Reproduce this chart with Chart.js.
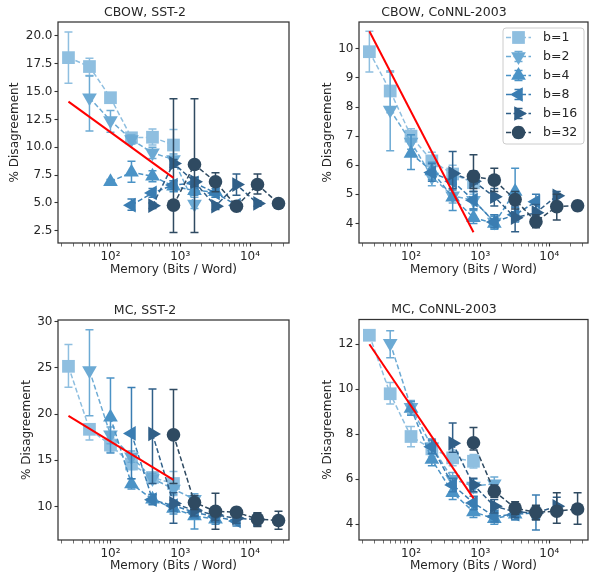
<!DOCTYPE html>
<html>
<head>
<meta charset="utf-8">
<script src="https://cdn.jsdelivr.net/npm/chart.js@4.4.1/dist/chart.umd.min.js"></script>
<style>
  body { margin: 0; background: #fff; }
  .panel { position: absolute; }
</style>
</head>
<body>
<div class="panel" style="left:0px;top:0px"><canvas id="c1" width="298" height="286"></canvas></div>
<div class="panel" style="left:298px;top:0px"><canvas id="c2" width="299" height="286"></canvas></div>
<div class="panel" style="left:0px;top:286px"><canvas id="c3" width="298" height="287"></canvas></div>
<div class="panel" style="left:298px;top:286px"><canvas id="c4" width="299" height="287"></canvas></div>
<script>
// memory (bits / word) of each precision b, one point per dimension
const bitLabels = ['b=1', 'b=2', 'b=4', 'b=8', 'b=16', 'b=32'];
const memB1 = [25, 50, 100, 200, 400, 800];
const memB2 = [50, 100, 200, 400, 800, 1600];
const memB4 = [100, 200, 400, 800, 1600, 3200];
const memB8 = [200, 400, 800, 1600, 3200, 6400];
const memB16 = [400, 800, 1600, 3200, 6400, 12800];
const memB32 = [800, 1600, 3200, 6400, 12800, 25600];
const fitMemory = [25, 800];
const xMajorTicks = [100, 1000, 10000];

// CBOW, SST-2
const cbowSstMean = [
  [18.05, 17.25, 14.45, 10.85, 10.9, 10.2],
  [14.45, 12.4, 10.7, 9.5, 8.9, 4.9],
  [6.9, 7.75, 7.4, 6.5, 6.1, 6.0],
  [4.8, 5.9, 6.6, 6.8, 5.9, 4.8],
  [4.75, 8.55, 6.9, 4.7, 6.65, 4.95],
  [4.8, 8.45, 6.9, 4.7, 6.65, 4.95]
];
const cbowSstLow = [
  [15.75, 16.45, 14.1, 10.5, 10.2, 8.8],
  [11.45, 11.35, 10.3, 9.0, 8.4, 4.5],
  [6.7, 6.85, 6.9, 6.0, 5.7, 5.5],
  [4.35, 5.5, 6.2, 6.4, 5.5, 4.5],
  [4.5, 8.2, 6.5, 4.4, 5.7, 4.7],
  [2.35, 2.35, 6.0, 4.4, 5.8, 4.7]
];
const cbowSstHigh = [
  [20.35, 18.0, 14.8, 11.2, 11.65, 11.6],
  [16.4, 13.3, 11.1, 10.0, 9.4, 5.5],
  [7.1, 8.75, 7.9, 7.0, 6.5, 6.5],
  [5.35, 6.3, 7.0, 7.2, 6.3, 5.1],
  [5.0, 8.9, 7.3, 5.0, 7.6, 5.2],
  [14.35, 14.35, 7.7, 5.0, 7.6, 5.2]
];
const cbowSstFit = [14.1, 7.25];
const cbowSstTicks = [2.5, 5, 7.5, 10, 12.5, 15, 17.5, 20];

// CBOW, CoNNL-2003
const cbowConllMean = [
  [9.9, 8.55, 7.0, 6.15, 5.7, 5.4],
  [7.9, 6.8, 5.6, 4.95, 4.8, 4.05],
  [6.4, 5.8, 4.9, 4.2, 4.0, 5.1],
  [5.75, 5.45, 4.8, 4.05, 4.3, 4.75],
  [5.72, 5.45, 4.92, 4.2, 4.37, 4.95],
  [5.62, 5.49, 4.82, 4.06, 4.58, 4.61]
];
const cbowConllLow = [
  [9.2, 7.8, 6.75, 5.85, 5.4, 5.0],
  [6.5, 6.55, 5.3, 4.7, 4.5, 3.85],
  [5.85, 5.5, 4.45, 4.0, 3.8, 4.4],
  [5.45, 5.15, 4.5, 3.85, 4.05, 4.5],
  [5.2, 5.1, 4.6, 3.72, 4.1, 4.75],
  [5.2, 5.1, 4.5, 3.85, 4.12, 4.45]
];
const cbowConllHigh = [
  [10.6, 9.25, 7.25, 6.45, 6.0, 5.8],
  [9.2, 7.05, 5.9, 5.2, 5.1, 4.3],
  [7.05, 6.1, 5.35, 4.45, 4.25, 5.9],
  [6.05, 5.75, 5.1, 4.3, 4.55, 5.0],
  [6.47, 5.8, 5.2, 4.6, 4.65, 5.1],
  [6.36, 5.9, 5.1, 4.3, 5.0, 4.77]
];
const cbowConllFit = [10.6, 3.7];
const cbowConllTicks = [4, 5, 6, 7, 8, 9, 10];

// MC, SST-2
const mcSstMean = [
  [25.15, 18.35, 16.65, 14.6, 13.15, 12.5],
  [24.7, 17.75, 15.4, 13.05, 11.9, 10.8],
  [19.65, 12.45, 10.8, 9.8, 9.0, 8.65],
  [17.9, 10.75, 10.1, 9.4, 8.9, 8.45],
  [17.85, 10.35, 9.6, 9.1, 8.75, 8.6],
  [17.75, 10.45, 9.5, 9.4, 8.65, 8.5]
];
const mcSstLow = [
  [22.9, 17.2, 15.9, 14.0, 12.6, 11.2],
  [19.8, 16.8, 14.8, 12.5, 11.3, 10.2],
  [15.8, 11.9, 10.3, 9.2, 7.6, 8.1],
  [13.0, 10.2, 9.5, 8.8, 8.3, 7.9],
  [12.5, 8.2, 9.0, 8.5, 8.2, 8.0],
  [12.5, 9.7, 7.55, 8.9, 7.85, 7.55]
];
const mcSstHigh = [
  [27.5, 18.9, 17.4, 15.2, 13.7, 13.8],
  [29.1, 18.6, 16.0, 13.6, 12.5, 11.4],
  [23.9, 13.0, 11.3, 10.4, 9.6, 9.2],
  [22.85, 11.3, 10.7, 10.0, 9.5, 9.0],
  [22.7, 11.5, 10.2, 9.7, 9.3, 9.2],
  [22.65, 11.2, 11.45, 9.9, 9.35, 9.5]
];
const mcSstFit = [19.8, 12.9];
const mcSstTicks = [10, 15, 20, 25, 30];

// MC, CoNNL-2003
const mcConllMean = [
  [12.4, 9.8, 7.9, 7.35, 6.95, 6.8],
  [12.05, 9.2, 7.45, 6.0, 5.7, 5.8],
  [9.15, 6.88, 5.4, 4.55, 4.25, 4.45],
  [7.45, 5.75, 4.95, 4.35, 4.45, 4.5],
  [7.6, 5.75, 4.8, 4.55, 4.5, 4.8],
  [7.62, 5.47, 4.72, 4.53, 4.58, 4.68]
];
const mcConllLow = [
  [12.2, 9.35, 7.45, 7.0, 6.6, 6.5],
  [11.4, 8.9, 7.1, 5.7, 5.4, 5.5],
  [8.85, 6.6, 5.1, 4.3, 4.0, 4.2],
  [7.15, 5.45, 4.65, 4.1, 4.2, 3.75],
  [7.2, 5.45, 4.5, 4.3, 4.2, 4.4],
  [7.3, 5.2, 4.45, 4.2, 4.05, 4.0]
];
const mcConllHigh = [
  [12.6, 10.3, 8.35, 7.7, 7.3, 7.1],
  [12.6, 9.5, 7.8, 6.3, 6.0, 6.1],
  [9.45, 7.15, 5.7, 4.8, 4.5, 4.7],
  [7.75, 6.05, 5.25, 4.6, 4.7, 5.3],
  [8.5, 6.05, 5.1, 4.8, 4.8, 5.2],
  [8.3, 5.75, 5.0, 4.85, 5.4, 5.4]
];
const mcConllFit = [12.0, 5.15];
const mcConllTicks = [4, 6, 8, 10, 12];

const memory = [memB1, memB2, memB4, memB8, memB16, memB32];
const colors = ['#8fbfe0', '#6caad4', '#4b93c6', '#3a7db2', '#305f88', '#2f4a61'];
const markers = [
  {style: 'rect', rot: 0, r: 9},
  {style: 'triangle', rot: 180, r: 8.5},
  {style: 'triangle', rot: 0, r: 8.5},
  {style: 'triangle', rot: -90, r: 8.5},
  {style: 'triangle', rot: 90, r: 8.5},
  {style: 'circle', rot: 0, r: 6.8}
];
const ink = '#262626';

Chart.defaults.font.family = 'DejaVu Sans';
Chart.defaults.color = ink;

// matplotlib-like error bars, drawn just under each series
const errorBars = {
  id: 'errorBars',
  beforeDatasetDraw(chart, args) {
    const ds = chart.data.datasets[args.index];
    if (!ds.low) return;
    const xs = chart.scales.x, ys = chart.scales.y, ctx = chart.ctx;
    ctx.save();
    ctx.strokeStyle = ds.borderColor;
    ctx.lineWidth = 1.5;
    ds.data.forEach((p, i) => {
      const px = xs.getPixelForValue(p.x);
      const y0 = ys.getPixelForValue(ds.low[i]);
      const y1 = ys.getPixelForValue(ds.high[i]);
      ctx.beginPath();
      ctx.moveTo(px, y0); ctx.lineTo(px, y1);
      ctx.moveTo(px - 4, y0); ctx.lineTo(px + 4, y0);
      ctx.moveTo(px - 4, y1); ctx.lineTo(px + 4, y1);
      ctx.stroke();
    });
    ctx.restore();
  }
};

// full box round the axes
const frame = {
  id: 'frame',
  afterDatasetsDraw(chart) {
    const a = chart.chartArea, ctx = chart.ctx;
    ctx.save();
    ctx.strokeStyle = '#333';
    ctx.lineWidth = 1.25;
    ctx.strokeRect(a.left, a.top, a.right - a.left, a.bottom - a.top);
    ctx.restore();
  }
};

function drawMarker(ctx, m, x, y, color) {
  ctx.save();
  ctx.fillStyle = color;
  ctx.translate(x, y);
  ctx.rotate(m.rot * Math.PI / 180);
  ctx.beginPath();
  if (m.style === 'rect') {
    const s = m.r * Math.SQRT1_2;
    ctx.rect(-s, -s, 2 * s, 2 * s);
  } else if (m.style === 'circle') {
    ctx.arc(0, 0, m.r, 0, Math.PI * 2);
  } else {
    for (let k = 0; k < 3; k++) {
      const a = k * 2 * Math.PI / 3;
      ctx.lineTo(Math.sin(a) * m.r, -Math.cos(a) * m.r);
    }
    ctx.closePath();
  }
  ctx.fill();
  ctx.restore();
}

const legendBox = {
  id: 'legendBox',
  afterDraw(chart, args, opts) {
    if (!opts.show) return;
    const ctx = chart.ctx;
    ctx.save();
    ctx.beginPath();
    ctx.roundRect(opts.x, opts.y, opts.w, opts.h, 3);
    ctx.fillStyle = 'rgba(255,255,255,0.85)';
    ctx.fill();
    ctx.strokeStyle = '#cccccc';
    ctx.lineWidth = 1;
    ctx.stroke();
    bitLabels.forEach((lab, i) => {
      const cy = opts.y + 9.5 + i * 19;
      const cx = opts.x + 15.5;
      ctx.strokeStyle = colors[i];
      ctx.lineWidth = 1.5;
      ctx.setLineDash([5, 2.5]);
      ctx.beginPath();
      ctx.moveTo(opts.x + 3, cy); ctx.lineTo(opts.x + 28, cy);
      ctx.stroke();
      ctx.setLineDash([]);
      ctx.beginPath();
      ctx.moveTo(cx, cy - 5); ctx.lineTo(cx, cy + 5);
      ctx.moveTo(cx - 4, cy - 5); ctx.lineTo(cx + 4, cy - 5);
      ctx.moveTo(cx - 4, cy + 5); ctx.lineTo(cx + 4, cy + 5);
      ctx.stroke();
      drawMarker(ctx, markers[i], cx, cy, colors[i]);
      ctx.fillStyle = ink;
      ctx.font = '12.5px "DejaVu Sans"';
      ctx.textBaseline = 'middle';
      ctx.fillText(lab, opts.x + 40, cy + 0.5);
    });
    ctx.restore();
  }
};

const sup = {2: '\u00b2', 3: '\u00b3', 4: '\u2074'};
const xAllTicks = [];
[10, 100, 1000, 10000].forEach(d => {
  for (let m = 1; m < 10; m++) {
    const v = m * d;
    if (v >= 17.7 && v <= 36200) xAllTicks.push(v);
  }
});

function makePanel(id, title, mean, low, high, fit, yTicks, yMin, yMax, yDigits, geo) {
  const datasets = mean.map((vals, i) => ({
    label: bitLabels[i],
    data: memory[i].map((m, k) => ({x: m, y: vals[k]})),
    low: low[i],
    high: high[i],
    showLine: true,
    borderColor: colors[i],
    backgroundColor: colors[i],
    borderWidth: 1.5,
    borderDash: [5, 2.5],
    pointStyle: markers[i].style,
    pointRotation: markers[i].rot,
    pointRadius: markers[i].r,
    pointBorderWidth: 0,
    clip: false,
    order: 6 - i
  }));
  datasets.push({
    label: 'fit',
    data: fitMemory.map((m, k) => ({x: m, y: fit[k]})),
    showLine: true,
    borderColor: '#ff0000',
    borderWidth: 2,
    pointRadius: 0,
    clip: false,
    order: 0
  });

  new Chart(document.getElementById(id), {
    type: 'scatter',
    data: {datasets},
    plugins: [errorBars, frame, legendBox],
    options: {
      responsive: false,
      animation: false,
      devicePixelRatio: 1,
      layout: {padding: {left: 0, right: geo.padR, top: geo.padT, bottom: 0}},
      plugins: {
        legend: {display: false},
        tooltip: {enabled: false},
        title: {
          display: true, text: title, color: ink,
          font: {size: 12.5, weight: 'normal'},
          padding: {top: 5, bottom: 2}
        },
        legendBox: geo.legend || {show: false}
      },
      scales: {
        x: {
          type: 'logarithmic',
          min: 17.7, max: 36200,
          bounds: 'data',
          afterBuildTicks: s => { s.ticks = xAllTicks.map(v => ({value: v})); },
          afterFit: s => { s.height = geo.xh; },
          ticks: {
            autoSkip: false, maxRotation: 0, padding: 3,
            font: {size: 12}, color: ink,
            callback: v => xMajorTicks.includes(v) ? '10' + sup[Math.round(Math.log10(v))] : ''
          },
          grid: {
            drawOnChartArea: false, tickLength: 3.5, tickColor: '#333',
            tickWidth: c => (c.tick && xMajorTicks.includes(c.tick.value)) ? 1.1 : 0.7
          },
          border: {display: false},
          title: {
            display: true, text: 'Memory (Bits / Word)', color: ink,
            font: {size: 12}, padding: {top: 0, bottom: geo.xTitlePad}
          }
        },
        y: {
          type: 'linear',
          min: yMin, max: yMax,
          bounds: 'data',
          afterBuildTicks: s => { s.ticks = yTicks.map(v => ({value: v})); },
          afterFit: s => { s.width = geo.yw; },
          ticks: {
            padding: 2, font: {size: 12}, color: ink,
            callback: v => v.toFixed(yDigits)
          },
          grid: {drawOnChartArea: false, tickLength: 3.5, tickColor: '#333', tickWidth: 1.1},
          border: {display: false},
          title: {
            display: true, text: '% Disagreement', color: ink,
            font: {size: 12}, padding: {top: geo.yTitlePad, bottom: 0}
          }
        }
      }
    }
  });
}

makePanel('c1', 'CBOW, SST-2', cbowSstMean, cbowSstLow, cbowSstHigh, cbowSstFit,
  cbowSstTicks, 1.4, 21.25, 1, {padR: 8, padT: 0, yw: 58, xh: 43, xTitlePad: 9, yTitlePad: 7.3});
makePanel('c2', 'CBOW, CoNNL-2003', cbowConllMean, cbowConllLow, cbowConllHigh, cbowConllFit,
  cbowConllTicks, 3.33, 10.92, 0, {padR: 7, padT: 0, yw: 61, xh: 43, xTitlePad: 9, yTitlePad: 23,
  legend: {show: true, x: 205, y: 28, w: 81, h: 116}});
makePanel('c3', 'MC, SST-2', mcSstMean, mcSstLow, mcSstHigh, mcSstFit,
  mcSstTicks, 6.4, 30.15, 0, {padR: 8, padT: 12, yw: 58, xh: 33, xTitlePad: 0, yTitlePad: 20});
makePanel('c4', 'MC, CoNNL-2003', mcConllMean, mcConllLow, mcConllHigh, mcConllFit,
  mcConllTicks, 3.3, 13.1, 0, {padR: 7, padT: 11.5, yw: 61, xh: 33, xTitlePad: 0, yTitlePad: 23});
</script>
</body>
</html>
